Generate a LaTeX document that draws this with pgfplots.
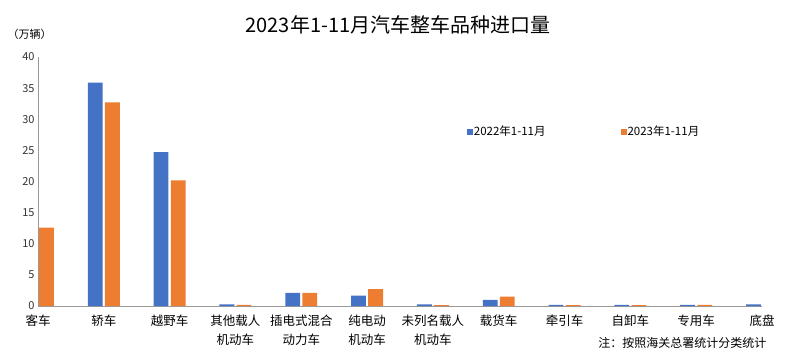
\documentclass[border=0pt]{standalone}
\usepackage{pgfplots}
\pgfplotsset{compat=1.18}
\usepackage{fontspec}
\setmainfont{Noto Sans CJK SC}
\definecolor{cblue}{HTML}{4472C4}
\definecolor{corange}{HTML}{ED7D31}
\begin{document}
\begin{tikzpicture}[x=1pt,y=1pt]
\path[use as bounding box] (0,0) rectangle (787,360);
\node at (398,335) {\fontsize{20}{24}\selectfont 2023年1-11月汽车整车品种进口量};
\node[anchor=west] at (4,326) {\fontsize{11}{13}\selectfont （万辆）};
\node[anchor=east] at (770,17) {\fontsize{12}{14}\selectfont 注：按照海关总署统计分类统计};
\begin{axis}[
  at={(38pt,54pt)}, anchor=south west,
  scale only axis, width=724pt, height=249pt,
  xmin=0, xmax=11, ymin=0, ymax=40,
  axis x line=bottom, axis y line=left,
  axis line style={draw=black!40, line width=0.8pt, -},
  xtick={0,...,11},
  xticklabels={客车,轿车,越野车,{其他载人\\机动车},{插电式混合\\动力车},{纯电动\\机动车},{未列名载人\\机动车},载货车,牵引车,自卸车,专用车,底盘},
  ytick={0,5,...,40},
  major tick length=0pt,
  tick style={draw=none},
  xticklabel style={font=\fontsize{12.5}{19}\selectfont, align=center, text=black, yshift=-5pt},
  yticklabel style={font=\fontsize{11}{13}\selectfont, text=black!80},
  /pgf/number format/assume math mode=true,
  ybar, bar width=0.225,
  legend style={at={(0.588,0.735)}, anchor=north west, draw=none, fill=none,
    font=\fontsize{11.5}{13}\selectfont, nodes={inner sep=1pt},
    /tikz/every even column/.append style={column sep=74pt}},
  legend columns=2,
  legend image code/.code={\fill[#1] (0pt,-3pt) rectangle (6pt,3pt);},
]
\addplot[fill=cblue, draw=none, bar shift=-0.13] coordinates {
 (1,35.9) (2,24.7) (3,0.25) (4,2.1) (5,1.65) (6,0.25) (7,1.0) (8,0.2) (9,0.2) (10,0.2) (11,0.25)};
\addplot[fill=corange, draw=none, bar shift=0.13] coordinates {
 (0,12.6) (1,32.7) (2,20.2) (3,0.2) (4,2.1) (5,2.7) (6,0.15) (7,1.5) (8,0.15) (9,0.15) (10,0.2)};
\legend{2022年1-11月,2023年1-11月}
\end{axis}
\end{tikzpicture}
\end{document}
